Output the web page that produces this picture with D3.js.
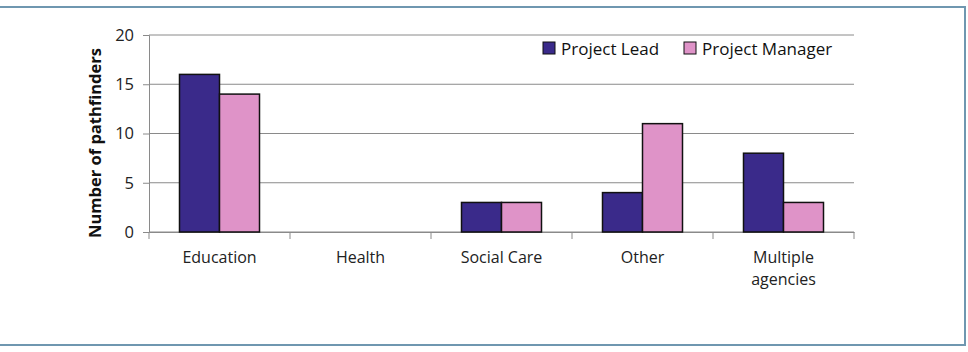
<!DOCTYPE html>
<html lang="en">
<head>
<meta charset="UTF-8">
<title>Pathfinders by agency</title>
<script src="https://d3js.org/d3.v7.min.js"></script>
<style>
    body { margin: 0; background: #fff; }
    svg { display: block; font-family: "Open Sans", "Noto Sans", sans-serif; }
</style>
</head>
<body>
<svg id="chart" width="968" height="352"></svg>
<script>
    // chart data
    const categories = ["Education", "Health", "Social Care", "Other", "Multiple agencies"];
    const seriesNames = ["Project Lead", "Project Manager"];
    const projectLead = [16, 0, 3, 4, 8];
    const projectManager = [14, 0, 3, 11, 3];
    const yTicks = [0, 5, 10, 15, 20];
    const colors = ["#3a2a8a", "#df93c8"];

    const svg = d3.select("#chart");
    const margin = { left: 149, right: 114, top: 35, bottom: 120 };
    const width = 968 - margin.left - margin.right;
    const height = 352 - margin.top - margin.bottom;
    const fontFamily = "'Open Sans', 'Noto Sans', sans-serif";

    // outer frame
    svg.append("rect")
        .attr("x", -5).attr("y", 7)
        .attr("width", 970).attr("height", 338)
        .attr("fill", "none")
        .attr("stroke", "#6f97b0")
        .attr("stroke-width", 2);

    const g = svg.append("g").attr("transform", `translate(${margin.left},${margin.top})`);

    const x = d3.scaleBand().domain(categories).range([0, width]);
    const xInner = d3.scaleBand().domain(seriesNames).range([x.bandwidth() / 2 - 40, x.bandwidth() / 2 + 40]);
    const y = d3.scaleLinear().domain([0, 20]).range([height, 0]);

    // gridlines
    g.selectAll(".grid").data(yTicks).join("line")
        .attr("x1", 0).attr("x2", width)
        .attr("y1", d => y(d)).attr("y2", d => y(d))
        .attr("stroke", "#8a8a8a").attr("stroke-width", 1);

    // y axis
    const yAxis = g.append("g").call(d3.axisLeft(y).tickValues(yTicks).tickSize(6).tickPadding(9));
    yAxis.attr("font-family", fontFamily).attr("font-size", 16.5);
    yAxis.select(".domain").attr("stroke", "#8a8a8a");
    yAxis.selectAll(".tick line").attr("stroke", "#8a8a8a");
    yAxis.selectAll(".tick text").attr("fill", "#222");

    // x axis
    const xAxis = g.append("g").attr("transform", `translate(0,${height})`)
        .call(d3.axisBottom(x).tickSize(0).tickPadding(20));
    xAxis.attr("font-family", fontFamily).attr("font-size", 16);
    xAxis.select(".domain").attr("stroke", "#8a8a8a");
    xAxis.selectAll(".tick text").attr("fill", "#222").each(function (d) {
        const t = d3.select(this);
        if (d === "Multiple agencies") {
            t.text(null);
            t.append("tspan").attr("x", 0).attr("dy", "0.71em").text("Multiple");
            t.append("tspan").attr("x", 0).attr("dy", "1.35em").text("agencies");
            t.attr("dy", null);
        }
    });
    // category separator ticks
    g.selectAll(".sep").data(d3.range(categories.length + 1)).join("line")
        .attr("x1", i => i * x.step()).attr("x2", i => i * x.step())
        .attr("y1", height).attr("y2", height + 7)
        .attr("stroke", "#8a8a8a");

    // bars
    const rows = categories.map((c, i) => ({ c, vals: [projectLead[i], projectManager[i]] }));
    g.selectAll(".cat").data(rows).join("g")
        .attr("transform", d => `translate(${x(d.c)},0)`)
        .selectAll("rect")
        .data(d => d.vals.map((v, k) => ({ v, k })).filter(e => e.v > 0))
        .join("rect")
        .attr("x", d => xInner(seriesNames[d.k]))
        .attr("width", xInner.bandwidth())
        .attr("y", d => y(d.v))
        .attr("height", d => height - y(d.v))
        .attr("fill", d => colors[d.k])
        .attr("stroke", "#111")
        .attr("stroke-width", 1.5);

    // y axis title
    svg.append("text")
        .attr("transform", "translate(101,143) rotate(-90)")
        .attr("text-anchor", "middle")
        .attr("font-size", 16.5)
        .attr("font-weight", "bold")
        .attr("fill", "#111")
        .text("Number of pathfinders");

    // legend
    const legendX = [543, 684];
    const legend = svg.selectAll(".legend").data(seriesNames).join("g")
        .attr("transform", (d, i) => `translate(${legendX[i]},42)`);
    legend.append("rect")
        .attr("width", 12).attr("height", 12)
        .attr("fill", (d, i) => colors[i])
        .attr("stroke", "#111").attr("stroke-width", 1);
    legend.append("text")
        .attr("x", 18).attr("y", 12.5)
        .attr("font-size", 17)
        .attr("fill", "#111")
        .text(d => d);

    // note below frame, cut at the page edge as in the source
    svg.append("text")
        .attr("x", 812).attr("y", 362)
        .attr("font-size", 15)
        .attr("fill", "#222")
        .text("N=24");
</script>
</body>
</html>
